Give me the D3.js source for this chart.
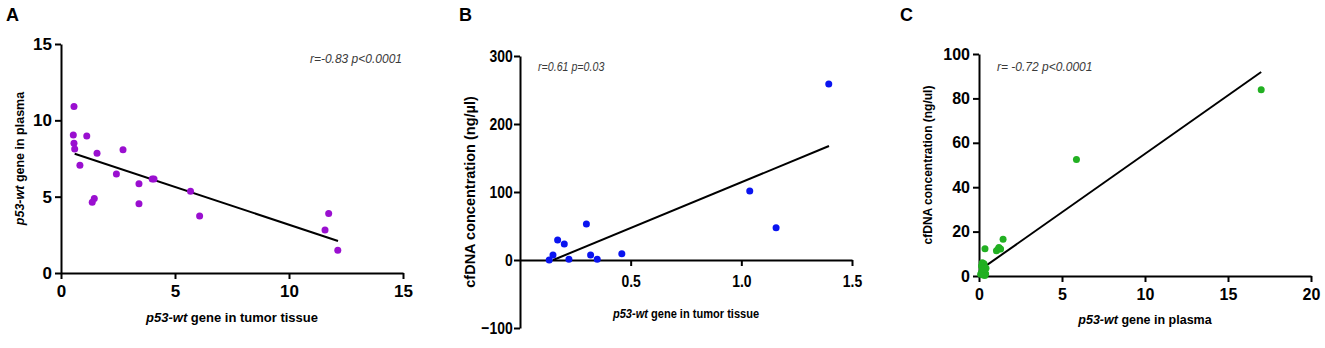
<!DOCTYPE html>
<html>
<head>
<meta charset="utf-8">
<script src="https://cdn.jsdelivr.net/npm/d3@7"></script>
<style>
  html, body { margin: 0; padding: 0; background: #fff; }
  svg { display: block; font-family: "Liberation Sans", Arial, sans-serif; }
  .axis path, .axis line { stroke: #000; stroke-width: 2; }
  .axis text { font-weight: bold; fill: #000; }
</style>
</head>
<body>
<svg id="chart" width="1325" height="348"></svg>
<script>
'use strict';

// Panel A: p53-wt tumour tissue vs p53-wt plasma
var aX = [0.57, 0.54, 0.57, 0.60, 1.13, 0.83, 1.58, 2.72, 2.43, 3.42, 4.00, 4.08, 1.46, 1.37, 3.42, 5.68, 6.08, 11.74, 11.58, 12.14];
var aY = [10.9, 9.04, 8.5, 8.12, 8.98, 7.05, 7.84, 8.08, 6.48, 5.85, 6.15, 6.15, 4.88, 4.64, 4.53, 5.36, 3.74, 3.9, 2.82, 1.49];
var aFitX = [0.6, 12.15];
var aFitY = [7.81, 2.1];
var aXTicks = [0, 5, 10, 15];
var aYTicks = [0, 5, 10, 15];

// Panel B: p53-wt tumour tissue vs cfDNA
var bX = [0.132, 0.149, 0.17, 0.20, 0.221, 0.30, 0.319, 0.349, 0.46, 1.038, 1.157, 1.395];
var bY = [0, 7.4, 29.4, 23.5, 1, 53, 7.4, 1, 9.3, 101.5, 47.5, 259];
var bFitX = [0.15, 1.396];
var bFitY = [0, 167.6];
var bXTicks = [0.5, 1.0, 1.5];
var bYTicks = [-100, 0, 100, 200, 300];

// Panel C: p53-wt plasma vs cfDNA
var cX = [17.0, 5.87, 0.36, 1.45, 1.05, 1.15, 1.2, 1.3, 0.2, 0.3, 0.15, 0.35, 0.25, 0.42, 0.2, 0.3, 0.15, 0.4, 0.25, 0.35, 0.1, 0.3];
var cY = [83.9, 52.5, 12.3, 16.5, 11.4, 12.0, 12.8, 12.2, 6.0, 5.5, 4.5, 4.0, 3.5, 3.5, 2.5, 2.0, 1.5, 1.0, 0.5, 0.2, 0.8, 3.0];
var cFitX = [0.34, 17.0];
var cFitY = [4.2, 91.9];
var cXTicks = [0, 5, 10, 15, 20];
var cYTicks = [0, 20, 40, 60, 80, 100];

var svg = d3.select('#chart');

function drawPanel(p) {
	var g = svg.append('g');
	var x = d3.scaleLinear().domain(p.xDomain).range(p.xRange);
	var y = d3.scaleLinear().domain(p.yDomain).range(p.yRange);
	var k = p.squeeze || 1;
	var sq = 'scale(' + k + ',1)';

	var xAxis = g.append('g')
		.attr('class', 'axis')
		.attr('transform', 'translate(0,' + y(p.xAxisAt) + ')')
		.call(d3.axisBottom(x).tickValues(p.xTicks).tickFormat(d3.format(p.xFmt))
			.tickSize(6).tickSizeOuter(0).tickPadding(p.xPad));
	xAxis.selectAll('text').style('font-size', p.tickFont + 'px').attr('transform', sq);

	var yAxis = g.append('g')
		.attr('class', 'axis')
		.attr('transform', 'translate(' + x(0) + ',0)')
		.call(d3.axisLeft(y).tickValues(p.yTicks).tickFormat(d3.format('d'))
			.tickSize(6).tickSizeOuter(0).tickPadding(3));
	yAxis.selectAll('text').style('font-size', p.tickFont + 'px').attr('transform', sq);

	g.append('line')
		.attr('x1', x(p.fitX[0])).attr('y1', y(p.fitY[0]))
		.attr('x2', x(p.fitX[1])).attr('y2', y(p.fitY[1]))
		.attr('stroke', '#000').attr('stroke-width', 2);

	g.selectAll('circle.pt')
		.data(d3.range(p.xs.length))
		.enter().append('circle')
		.attr('class', 'pt')
		.attr('cx', function(i){ return x(p.xs[i]); })
		.attr('cy', function(i){ return y(p.ys[i]); })
		.attr('r', 3.5)
		.attr('fill', p.color);

	// x axis title
	var xt = g.append('g')
		.attr('transform', 'translate(' + (p.xRange[0] + p.xRange[1]) / 2 + ',' + p.xTitleY + ') ' + sq)
		.append('text')
		.attr('dy', '0.35em')
		.attr('text-anchor', 'middle')
		.style('font-size', p.xTitleFont + 'px')
		.style('font-weight', 'bold');
	xt.append('tspan').style('font-style', 'italic').text(p.xTitle[0]);
	xt.append('tspan').text(p.xTitle[1]);

	// y axis title
	var yt = g.append('text')
		.attr('transform', 'translate(' + p.yTitleX + ',' + (p.yRange[0] + p.yRange[1]) / 2 + ') rotate(-90)')
		.attr('dy', '0.35em')
		.attr('text-anchor', 'middle')
		.style('font-size', p.yTitleFont + 'px')
		.style('font-weight', 'bold');
	if (p.yTitle[0]) yt.append('tspan').style('font-style', 'italic').text(p.yTitle[0]);
	yt.append('tspan').text(p.yTitle[1]);

	// stats
	g.append('g')
		.attr('transform', 'translate(' + p.statX + ',' + p.statY + ') ' + sq)
		.append('text')
		.attr('dy', '0.35em')
		.attr('text-anchor', p.statAnchor)
		.style('font-size', p.statFont + 'px')
		.style('font-style', 'italic')
		.attr('fill', '#3a3a3a')
		.text(p.stat);

	g.append('text')
		.attr('x', p.letterX).attr('y', 21)
		.style('font-size', '18px')
		.style('font-weight', 'bold')
		.text(p.letter);
}

drawPanel({
	letter: 'A', letterX: 6,
	xs: aX, ys: aY, fitX: aFitX, fitY: aFitY, color: '#9a0fd0',
	xDomain: [0, 15], xRange: [61, 403], yDomain: [0, 15], yRange: [273, 44],
	xTicks: aXTicks, yTicks: aYTicks, xFmt: 'd', xAxisAt: 0, xPad: 6, tickFont: 17,
	xTitle: ['p53-wt', ' gene in tumor tissue'], xTitleY: 317, xTitleFont: 13,
	yTitle: ['p53-wt', ' gene in plasma'], yTitleX: 20, yTitleFont: 12.5,
	stat: 'r=-0.83  p<0.0001', statX: 402, statY: 59, statAnchor: 'end', statFont: 12
});

drawPanel({
	letter: 'B', letterX: 459, squeeze: 0.82,
	xs: bX, ys: bY, fitX: bFitX, fitY: bFitY, color: '#0a14f0',
	xDomain: [0, 1.5], xRange: [520, 852], yDomain: [-100, 300], yRange: [328, 56],
	xTicks: bXTicks, yTicks: bYTicks, xFmt: '.1f', xAxisAt: 0, xPad: 9, tickFont: 17,
	xTitle: ['p53-wt', ' gene in tumor tissue'], xTitleY: 313, xTitleFont: 13.5,
	yTitle: ['', 'cfDNA concentration (ng/\u00b5l)'], yTitleX: 470, yTitleFont: 14.5,
	stat: 'r=0.61 p=0.03', statX: 538, statY: 66, statAnchor: 'start', statFont: 13
});

drawPanel({
	letter: 'C', letterX: 900,
	xs: cX, ys: cY, fitX: cFitX, fitY: cFitY, color: '#22b022',
	xDomain: [0, 20], xRange: [979, 1311], yDomain: [0, 100], yRange: [276, 54],
	xTicks: cXTicks, yTicks: cYTicks, xFmt: 'd', xAxisAt: 0, xPad: 7, tickFont: 16,
	xTitle: ['p53-wt', ' gene in plasma'], xTitleY: 320, xTitleFont: 12.5,
	yTitle: ['', 'cfDNA concentration (ng/ul)'], yTitleX: 928, yTitleFont: 12,
	stat: 'r= -0.72 p<0.0001', statX: 997, statY: 67, statAnchor: 'start', statFont: 12
});
</script>
</body>
</html>
